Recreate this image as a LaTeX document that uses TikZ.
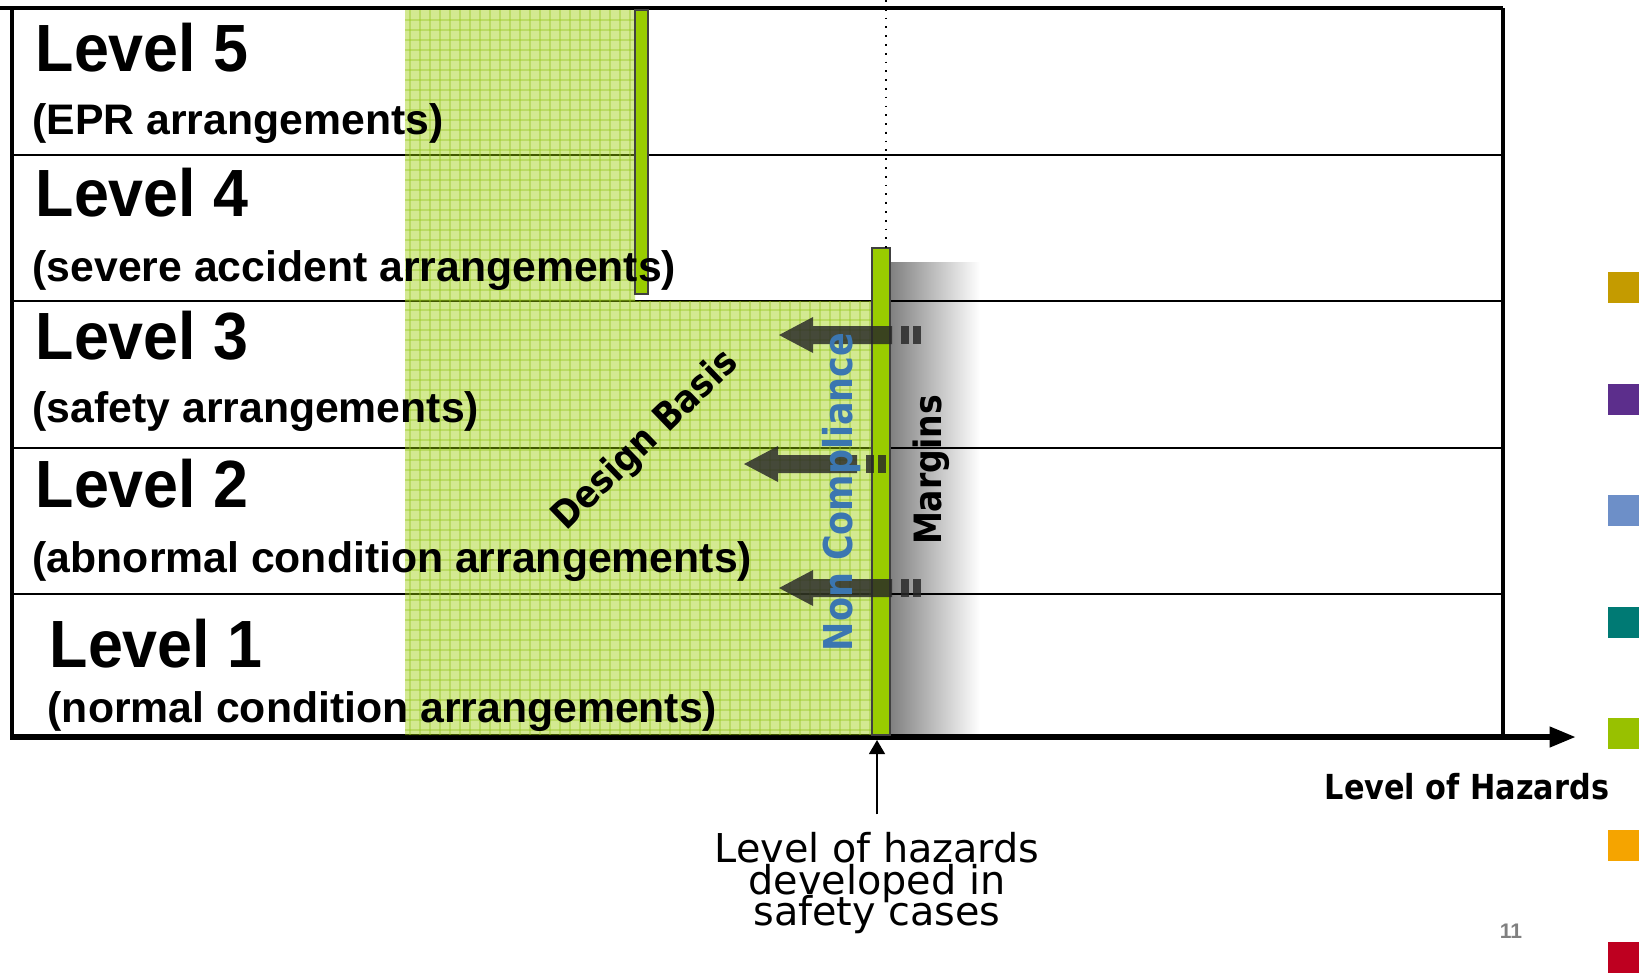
\documentclass[tikz,border=0pt]{standalone}
\usepackage{fontspec}
\setmainfont{Liberation Sans}
\newfontfamily\levelfont[FakeStretch = 0.94]{Liberation Sans}
\newfontfamily\labelfont{DejaVu Sans}
\newfontfamily\narrowfont[FakeStretch = 0.88]{DejaVu Sans}
\newcommand\tightlines{\lineskiplimit=-20pt\relax}
\usetikzlibrary{arrows.meta}
\definecolor{barGreen}{RGB}{153,204,0}
\definecolor{gridGreen}{RGB}{150,200,30}
\definecolor{ncBlue}{RGB}{59,118,176}
\definecolor{sqGold}{RGB}{196,155,0}
\definecolor{sqPurple}{RGB}{92,46,140}
\definecolor{sqBlue}{RGB}{109,143,200}
\definecolor{sqTeal}{RGB}{0,122,116}
\definecolor{sqGreen}{RGB}{152,193,0}
\definecolor{sqOrange}{RGB}{245,164,0}
\definecolor{sqRed}{RGB}{190,0,32}
\tikzset{
    lvltitle/.style = {anchor = base west, inner sep = 0, font = \levelfont\fontsize{19}{19}\selectfont\bfseries},
    lvlsub/.style = {anchor = base west, inner sep = 0, font = \fontsize{12.15}{12}\selectfont\bfseries},
    rowline/.style = {line width = 0.7pt},
    frameline/.style = {line width = 1.3pt},
    greenbar/.style = {fill = barGreen, draw = black!75, line width = 0.5pt},
    hazfill/.style = {fill = black!85, fill opacity = 0.82},
    sidelabel/.style = {rotate = 90, inner sep = 0, font = \narrowfont\bfseries\fontsize{11}{11}\selectfont}
}
\begin{document}
\begin{tikzpicture}[x = 0.01cm, y = -0.01cm]
            \useasboundingbox (0,0) rectangle (1645,972);
            \shade[left color = black!50, right color = white] (890,262) rectangle (980,734);
            \foreach \y in {155, 301, 448, 594} {
                \draw[rowline] (12,\y) -- (1503,\y);
            }
            \draw[frameline] (0,8) -- (1503,8);
            \draw[frameline] (12,8) -- (12,738);
            \draw[frameline] (1503,8) -- (1503,738);
            \draw[line width = 1.7pt, -{Triangle[length = 7.5pt, width = 5.5pt]}] (10,737) -- (1576,737);
            \begin{scope}
                \fill[barGreen, fill opacity = 0.43] (405,10) -- (635,10) -- (635,301) -- (871,301) -- (871,735) -- (405,735) -- cycle;
                \clip (405,10) -- (635,10) -- (635,301) -- (871,301) -- (871,735) -- (405,735) -- cycle;
                \foreach \x in {410, 420, ..., 870} {
                    \draw[gridGreen, line width = 0.3pt, opacity = 0.4] (\x,10) -- (\x,735);
                }
                \foreach \y in {20, 30, ..., 730} {
                    \draw[gridGreen, line width = 0.3pt, opacity = 0.4] (405,\y) -- (871,\y);
                }
            \end{scope}
            \draw[greenbar] (635,10) rectangle (648,294);
            \draw[greenbar] (872,248) rectangle (890,735);
            \draw[dotted, line width = 0.5pt] (886,0) -- (886,248);
            \foreach \tx/\ty in {779/335, 744/464, 779/588} {
                \begin{scope}[shift = {(\tx,\ty)}]
                    \fill[hazfill] (0,0) -- (34,-18) -- (34,-9) -- (113,-9) -- (113,9) -- (34,9) -- (34,18) -- cycle;
                    \foreach \bx in {122, 134} {
                        \fill[hazfill] (\bx,-9) rectangle ++(8,18);
                    }
                \end{scope}
            }
            \node[lvltitle] (lv5) at (35,71) {Level 5};
            \node[lvlsub] (lv5sub) at (32,134) {(EPR arrangements)};
            \node[lvltitle] (lv4) at (35,216) {Level 4};
            \node[lvlsub] (lv4sub) at (32,281) {(severe accident arrangements)};
            \node[lvltitle] (lv3) at (35,359) {Level 3};
            \node[lvlsub] (lv3sub) at (32,422) {(safety arrangements)};
            \node[lvltitle] (lv2) at (35,507) {Level 2};
            \node[lvlsub] (lv2sub) at (32,572) {(abnormal condition arrangements)};
            \node[lvltitle] (lv1) at (49,667) {Level 1};
            \node[lvlsub] (lv1sub) at (47,722) {(normal condition arrangements)};
            \node[rotate = 44, font = \narrowfont\bfseries\fontsize{10.8}{11}\selectfont] (design) at (646,441) {Design Basis};
            \node[sidelabel, text = ncBlue, font = \narrowfont\bfseries\fontsize{11.3}{11}\selectfont] (noncomp) at (842,492) {Non Compliance};
            \node[sidelabel, font = \narrowfont\bfseries\fontsize{10.7}{11}\selectfont] (margins) at (931,470) {Margins};
            \node[anchor = north, inner sep = 0, align = center, font = {\labelfont\fontsize{11.3}{8.9}\selectfont\tightlines}] (hazdev) at (877,832) {Level of hazards\\developed in\\safety cases};
            \coordinate (hazpt) at (877,740);
            \draw[line width = 0.6pt, -{Triangle[length = 4pt, width = 4.5pt]}] ([yshift = 5pt]hazdev.north) -- (hazpt);
            \node[anchor = base west, inner sep = 0, font = \narrowfont\bfseries\fontsize{9.8}{10}\selectfont] (hazaxis) at (1324,799) {Level of Hazards};
            \node[text = gray, font = \bfseries\fontsize{6}{6}\selectfont] (pagenum) at (1511,931) {11};
            \foreach \c [count = \i] in {sqGold, sqPurple, sqBlue, sqTeal, sqGreen, sqOrange, sqRed} {
                \fill[\c] (1608,{272 + 111.6*(\i-1)}) rectangle ++(31,31);
            }
\end{tikzpicture}
\end{document}
